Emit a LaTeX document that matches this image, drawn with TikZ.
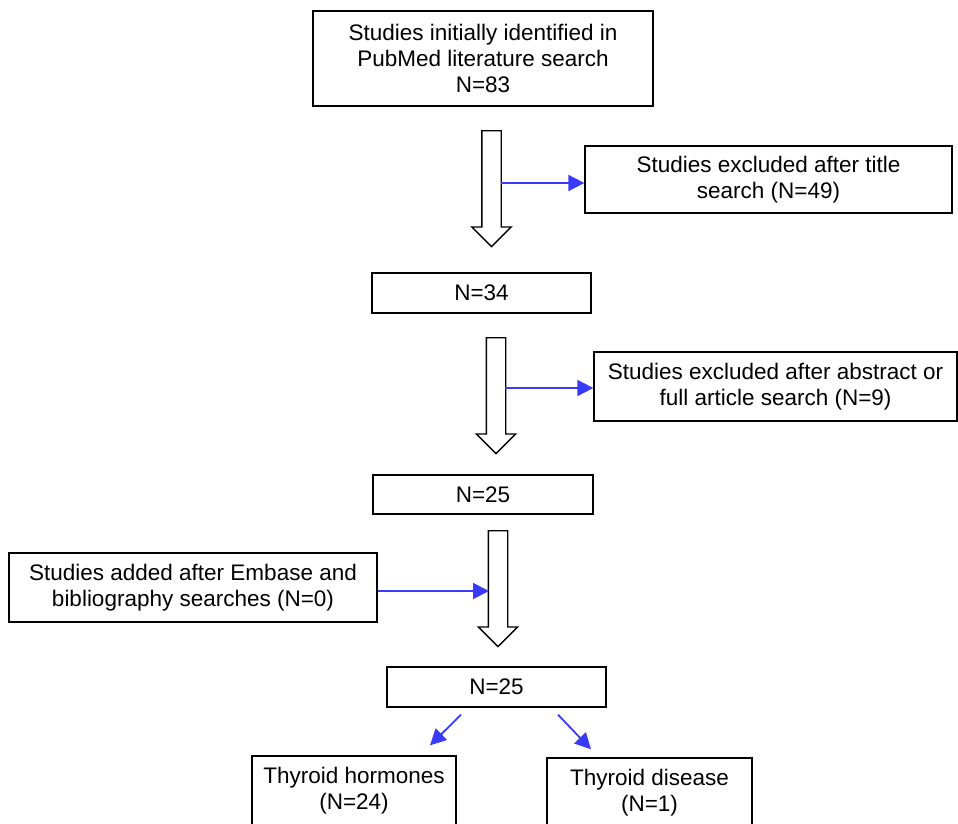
\documentclass[tikz,border=0pt]{standalone}
\usepackage{fontspec}
\setmainfont{Liberation Sans}
\usetikzlibrary{arrows.meta, positioning, shapes.arrows}
\definecolor{flowblue}{RGB}{58,58,250}
\tikzset{
        box/.style={draw, line width=1.3pt, align=center, inner sep=0pt,
          font=\fontsize{22.5}{26}\selectfont}, % every study box
        hollow/.style={draw, line width=1.4pt, single arrow, rotate=-90,
          anchor=tail, inner xsep=0pt, inner ysep=9pt, minimum width=38pt,
          single arrow head extend=10pt, single arrow tip angle=90}, % big white arrows
        flow/.style={draw=flowblue, line width=1.8pt,
          -{Triangle[length=16pt, width=16pt]}}, % blue pointers
    }

\begin{document}
\begin{tikzpicture}[x=1pt, y=-1pt]
    \useasboundingbox (0,0) rectangle (958,823);
    \clip (0,0) rectangle (958,823);
    % main column
    \node[box, minimum width=340pt, minimum height=95pt] (b1) at (483,58.5)
      {Studies initially identified in\\PubMed literature search\\N=83};
    \node[box, minimum width=219pt, minimum height=40pt] (b3) at (481.5,293) {N=34};
    \node[box, minimum width=220pt, minimum height=39pt] (b5) at (483,494.5) {N=25};
    \node[box, minimum width=219pt, minimum height=40pt] (b7) at (496.5,687) {N=25};
    % side boxes
    \node[box, minimum width=367pt, minimum height=67pt] (b2) at (768.5,179.5)
      {Studies excluded after title\\search (N=49)};
    \node[box, minimum width=363pt, minimum height=69pt] (b4) at (775.5,386.5)
      {Studies excluded after abstract or\\full article search (N=9)};
    \node[box, minimum width=368pt, minimum height=69pt] (b6) at (193,587.5)
      {Studies added after Embase and\\bibliography searches (N=0)};
    \node[box, minimum width=204pt, minimum height=70pt] (b8) at (354,791)
      {Thyroid hormones\\(N=24)};
    \node[box, minimum width=205pt, minimum height=70pt] (b9) at (649.5,793)
      {Thyroid disease\\(N=1)};
    % hollow arrows
    \node[hollow, minimum height=116pt] (a1) at (491.5,130) {};
    \node[hollow, minimum height=116pt] (a2) at (496,337) {};
    \node[hollow, minimum height=116pt] (a3) at (498,530) {};
    \coordinate (s1) at (501,183);
    \coordinate (s2) at (505,388);
    \coordinate (s3) at (489,591);
    \draw[flow] (s1) -- (s1 -| b2.west);
    \draw[flow] (s2) -- (s2 -| b4.west);
    \draw[flow] (b6.east |- s3) -- (s3);
    \draw[flow] ([xshift=-35.5pt, yshift=-7pt]b7.south) -- ([xshift=76pt, yshift=10pt]b8.north);
    \draw[flow] ([xshift=61.5pt, yshift=-7pt]b7.south) -- ([xshift=-58.5pt, yshift=8pt]b9.north);
  \end{tikzpicture}
\end{document}
